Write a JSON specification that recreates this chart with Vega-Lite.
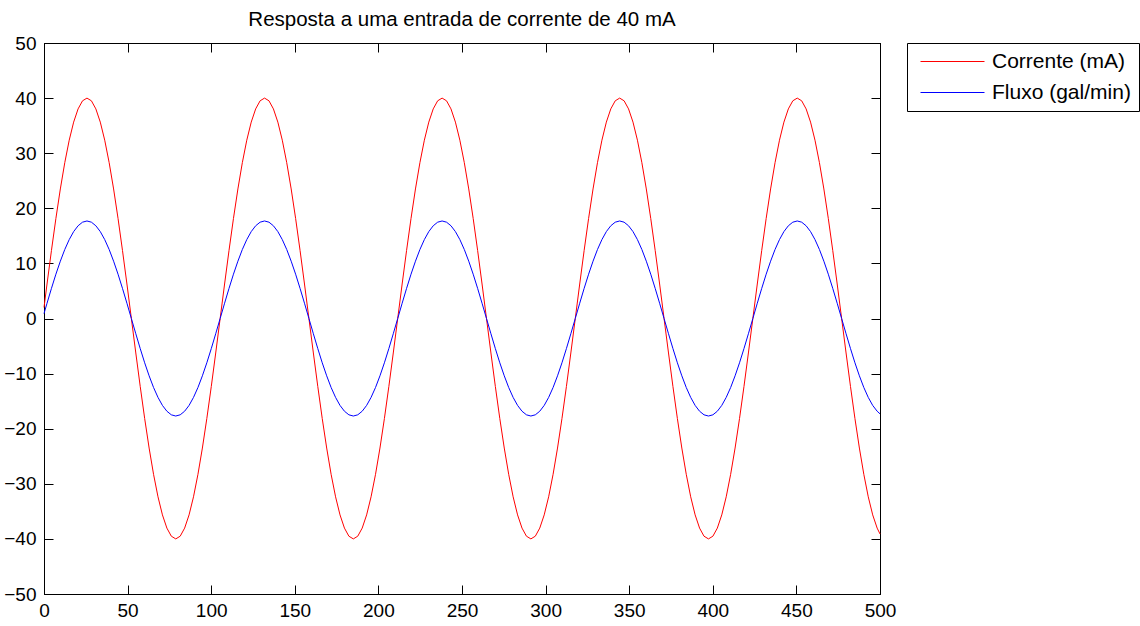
{
  "$schema": "https://vega.github.io/schema/vega-lite/v6.json",
  "width": 836,
  "height": 551,
  "autosize": "none",
  "padding": {"left": 44, "top": 43, "right": 260, "bottom": 32},
  "background": "white",
  "config": {
    "font": "Liberation Sans",
    "view": {"stroke": "black", "strokeWidth": 1}
  },
  "title": {
    "text": "Resposta a uma entrada de corrente de 40 mA",
    "fontSize": 20.5,
    "fontWeight": "normal",
    "font": "Liberation Sans",
    "color": "black",
    "anchor": "middle",
    "offset": 4
  },
  "data": {
    "values": [
      {"t":0,"c":2.01,"f":0.89},
      {"t":1.805,"c":6.26,"f":2.77},
      {"t":4.46,"c":12.36,"f":5.47},
      {"t":7.115,"c":18.16,"f":8.04},
      {"t":9.77,"c":23.51,"f":10.4},
      {"t":12.425,"c":28.28,"f":12.52},
      {"t":15.08,"c":32.36,"f":14.32},
      {"t":17.735,"c":35.64,"f":15.77},
      {"t":20.39,"c":38.04,"f":16.83},
      {"t":23.045,"c":39.51,"f":17.48},
      {"t":25.7,"c":40,"f":17.7},
      {"t":28.355,"c":39.51,"f":17.48},
      {"t":31.01,"c":38.04,"f":16.83},
      {"t":33.665,"c":35.64,"f":15.77},
      {"t":36.32,"c":32.36,"f":14.32},
      {"t":38.975,"c":28.28,"f":12.52},
      {"t":41.63,"c":23.51,"f":10.4},
      {"t":44.285,"c":18.16,"f":8.04},
      {"t":46.94,"c":12.36,"f":5.47},
      {"t":49.595,"c":6.26,"f":2.77},
      {"t":52.25,"c":0,"f":0},
      {"t":54.905,"c":-6.26,"f":-2.77},
      {"t":57.56,"c":-12.36,"f":-5.47},
      {"t":60.215,"c":-18.16,"f":-8.04},
      {"t":62.87,"c":-23.51,"f":-10.4},
      {"t":65.525,"c":-28.28,"f":-12.52},
      {"t":68.18,"c":-32.36,"f":-14.32},
      {"t":70.835,"c":-35.64,"f":-15.77},
      {"t":73.49,"c":-38.04,"f":-16.83},
      {"t":76.145,"c":-39.51,"f":-17.48},
      {"t":78.8,"c":-40,"f":-17.7},
      {"t":81.455,"c":-39.51,"f":-17.48},
      {"t":84.11,"c":-38.04,"f":-16.83},
      {"t":86.765,"c":-35.64,"f":-15.77},
      {"t":89.42,"c":-32.36,"f":-14.32},
      {"t":92.075,"c":-28.28,"f":-12.52},
      {"t":94.73,"c":-23.51,"f":-10.4},
      {"t":97.385,"c":-18.16,"f":-8.04},
      {"t":100.04,"c":-12.36,"f":-5.47},
      {"t":102.695,"c":-6.26,"f":-2.77},
      {"t":105.35,"c":0,"f":0},
      {"t":108.005,"c":6.26,"f":2.77},
      {"t":110.66,"c":12.36,"f":5.47},
      {"t":113.315,"c":18.16,"f":8.04},
      {"t":115.97,"c":23.51,"f":10.4},
      {"t":118.625,"c":28.28,"f":12.52},
      {"t":121.28,"c":32.36,"f":14.32},
      {"t":123.935,"c":35.64,"f":15.77},
      {"t":126.59,"c":38.04,"f":16.83},
      {"t":129.245,"c":39.51,"f":17.48},
      {"t":131.9,"c":40,"f":17.7},
      {"t":134.555,"c":39.51,"f":17.48},
      {"t":137.21,"c":38.04,"f":16.83},
      {"t":139.865,"c":35.64,"f":15.77},
      {"t":142.52,"c":32.36,"f":14.32},
      {"t":145.175,"c":28.28,"f":12.52},
      {"t":147.83,"c":23.51,"f":10.4},
      {"t":150.485,"c":18.16,"f":8.04},
      {"t":153.14,"c":12.36,"f":5.47},
      {"t":155.795,"c":6.26,"f":2.77},
      {"t":158.45,"c":0,"f":0},
      {"t":161.105,"c":-6.26,"f":-2.77},
      {"t":163.76,"c":-12.36,"f":-5.47},
      {"t":166.415,"c":-18.16,"f":-8.04},
      {"t":169.07,"c":-23.51,"f":-10.4},
      {"t":171.725,"c":-28.28,"f":-12.52},
      {"t":174.38,"c":-32.36,"f":-14.32},
      {"t":177.035,"c":-35.64,"f":-15.77},
      {"t":179.69,"c":-38.04,"f":-16.83},
      {"t":182.345,"c":-39.51,"f":-17.48},
      {"t":185,"c":-40,"f":-17.7},
      {"t":187.655,"c":-39.51,"f":-17.48},
      {"t":190.31,"c":-38.04,"f":-16.83},
      {"t":192.965,"c":-35.64,"f":-15.77},
      {"t":195.62,"c":-32.36,"f":-14.32},
      {"t":198.275,"c":-28.28,"f":-12.52},
      {"t":200.93,"c":-23.51,"f":-10.4},
      {"t":203.585,"c":-18.16,"f":-8.04},
      {"t":206.24,"c":-12.36,"f":-5.47},
      {"t":208.895,"c":-6.26,"f":-2.77},
      {"t":211.55,"c":0,"f":0},
      {"t":214.205,"c":6.26,"f":2.77},
      {"t":216.86,"c":12.36,"f":5.47},
      {"t":219.515,"c":18.16,"f":8.04},
      {"t":222.17,"c":23.51,"f":10.4},
      {"t":224.825,"c":28.28,"f":12.52},
      {"t":227.48,"c":32.36,"f":14.32},
      {"t":230.135,"c":35.64,"f":15.77},
      {"t":232.79,"c":38.04,"f":16.83},
      {"t":235.445,"c":39.51,"f":17.48},
      {"t":238.1,"c":40,"f":17.7},
      {"t":240.755,"c":39.51,"f":17.48},
      {"t":243.41,"c":38.04,"f":16.83},
      {"t":246.065,"c":35.64,"f":15.77},
      {"t":248.72,"c":32.36,"f":14.32},
      {"t":251.375,"c":28.28,"f":12.52},
      {"t":254.03,"c":23.51,"f":10.4},
      {"t":256.685,"c":18.16,"f":8.04},
      {"t":259.34,"c":12.36,"f":5.47},
      {"t":261.995,"c":6.26,"f":2.77},
      {"t":264.65,"c":0,"f":0},
      {"t":267.305,"c":-6.26,"f":-2.77},
      {"t":269.96,"c":-12.36,"f":-5.47},
      {"t":272.615,"c":-18.16,"f":-8.04},
      {"t":275.27,"c":-23.51,"f":-10.4},
      {"t":277.925,"c":-28.28,"f":-12.52},
      {"t":280.58,"c":-32.36,"f":-14.32},
      {"t":283.235,"c":-35.64,"f":-15.77},
      {"t":285.89,"c":-38.04,"f":-16.83},
      {"t":288.545,"c":-39.51,"f":-17.48},
      {"t":291.2,"c":-40,"f":-17.7},
      {"t":293.855,"c":-39.51,"f":-17.48},
      {"t":296.51,"c":-38.04,"f":-16.83},
      {"t":299.165,"c":-35.64,"f":-15.77},
      {"t":301.82,"c":-32.36,"f":-14.32},
      {"t":304.475,"c":-28.28,"f":-12.52},
      {"t":307.13,"c":-23.51,"f":-10.4},
      {"t":309.785,"c":-18.16,"f":-8.04},
      {"t":312.44,"c":-12.36,"f":-5.47},
      {"t":315.095,"c":-6.26,"f":-2.77},
      {"t":317.75,"c":0,"f":0},
      {"t":320.405,"c":6.26,"f":2.77},
      {"t":323.06,"c":12.36,"f":5.47},
      {"t":325.715,"c":18.16,"f":8.04},
      {"t":328.37,"c":23.51,"f":10.4},
      {"t":331.025,"c":28.28,"f":12.52},
      {"t":333.68,"c":32.36,"f":14.32},
      {"t":336.335,"c":35.64,"f":15.77},
      {"t":338.99,"c":38.04,"f":16.83},
      {"t":341.645,"c":39.51,"f":17.48},
      {"t":344.3,"c":40,"f":17.7},
      {"t":346.955,"c":39.51,"f":17.48},
      {"t":349.61,"c":38.04,"f":16.83},
      {"t":352.265,"c":35.64,"f":15.77},
      {"t":354.92,"c":32.36,"f":14.32},
      {"t":357.575,"c":28.28,"f":12.52},
      {"t":360.23,"c":23.51,"f":10.4},
      {"t":362.885,"c":18.16,"f":8.04},
      {"t":365.54,"c":12.36,"f":5.47},
      {"t":368.195,"c":6.26,"f":2.77},
      {"t":370.85,"c":0,"f":0},
      {"t":373.505,"c":-6.26,"f":-2.77},
      {"t":376.16,"c":-12.36,"f":-5.47},
      {"t":378.815,"c":-18.16,"f":-8.04},
      {"t":381.47,"c":-23.51,"f":-10.4},
      {"t":384.125,"c":-28.28,"f":-12.52},
      {"t":386.78,"c":-32.36,"f":-14.32},
      {"t":389.435,"c":-35.64,"f":-15.77},
      {"t":392.09,"c":-38.04,"f":-16.83},
      {"t":394.745,"c":-39.51,"f":-17.48},
      {"t":397.4,"c":-40,"f":-17.7},
      {"t":400.055,"c":-39.51,"f":-17.48},
      {"t":402.71,"c":-38.04,"f":-16.83},
      {"t":405.365,"c":-35.64,"f":-15.77},
      {"t":408.02,"c":-32.36,"f":-14.32},
      {"t":410.675,"c":-28.28,"f":-12.52},
      {"t":413.33,"c":-23.51,"f":-10.4},
      {"t":415.985,"c":-18.16,"f":-8.04},
      {"t":418.64,"c":-12.36,"f":-5.47},
      {"t":421.295,"c":-6.26,"f":-2.77},
      {"t":423.95,"c":0,"f":0},
      {"t":426.605,"c":6.26,"f":2.77},
      {"t":429.26,"c":12.36,"f":5.47},
      {"t":431.915,"c":18.16,"f":8.04},
      {"t":434.57,"c":23.51,"f":10.4},
      {"t":437.225,"c":28.28,"f":12.52},
      {"t":439.88,"c":32.36,"f":14.32},
      {"t":442.535,"c":35.64,"f":15.77},
      {"t":445.19,"c":38.04,"f":16.83},
      {"t":447.845,"c":39.51,"f":17.48},
      {"t":450.5,"c":40,"f":17.7},
      {"t":453.155,"c":39.51,"f":17.48},
      {"t":455.81,"c":38.04,"f":16.83},
      {"t":458.465,"c":35.64,"f":15.77},
      {"t":461.12,"c":32.36,"f":14.32},
      {"t":463.775,"c":28.28,"f":12.52},
      {"t":466.43,"c":23.51,"f":10.4},
      {"t":469.085,"c":18.16,"f":8.04},
      {"t":471.74,"c":12.36,"f":5.47},
      {"t":474.395,"c":6.26,"f":2.77},
      {"t":477.05,"c":0,"f":0},
      {"t":479.705,"c":-6.26,"f":-2.77},
      {"t":482.36,"c":-12.36,"f":-5.47},
      {"t":485.015,"c":-18.16,"f":-8.04},
      {"t":487.67,"c":-23.51,"f":-10.4},
      {"t":490.325,"c":-28.28,"f":-12.52},
      {"t":492.98,"c":-32.36,"f":-14.32},
      {"t":495.635,"c":-35.64,"f":-15.77},
      {"t":498.29,"c":-38.04,"f":-16.83},
      {"t":500,"c":-39.1,"f":-17.3}
    ]
  },
  "transform": [{"fold": ["c", "f"], "as": ["s", "v"]}],
  "layer": [
    {
      "mark": {"type": "line", "strokeWidth": 1},
      "encoding": {
        "x": {
          "field": "t", "type": "quantitative",
          "scale": {"domain": [0, 500], "nice": false, "zero": false},
          "axis": {
            "orient": "bottom", "title": null, "grid": false,
            "values": [0, 50, 100, 150, 200, 250, 300, 350, 400, 450, 500],
            "tickSize": -9, "tickColor": "black", "tickWidth": 1,
            "domainColor": "black", "domainWidth": 1,
            "labelFont": "Liberation Sans", "labelFontSize": 19, "labelColor": "black",
            "labelPadding": 16, "labelFlush": false, "labelOverlap": false
          }
        },
        "y": {
          "field": "v", "type": "quantitative",
          "scale": {"domain": [-50, 50], "nice": false, "zero": false},
          "axis": {
            "orient": "left", "title": null, "grid": false,
            "values": [-50, -40, -30, -20, -10, 0, 10, 20, 30, 40, 50],
            "tickSize": -9, "tickColor": "black", "tickWidth": 1,
            "domainColor": "black", "domainWidth": 1,
            "labelFont": "Liberation Sans", "labelFontSize": 19, "labelColor": "black",
            "labelPadding": 17, "labelFlush": false, "labelOverlap": false
          }
        },
        "color": {
          "field": "s", "type": "nominal",
          "scale": {"domain": ["c", "f"], "range": ["#ff0000", "#0000ff"]},
          "legend": {
            "orient": "none", "legendX": 863, "legendY": 0,
            "title": null,
            "labelExpr": "datum.label == 'c' ? 'Corrente (mA)' : 'Fluxo (gal/min)'",
            "labelFont": "Liberation Sans", "labelFontSize": 21, "labelColor": "black",
            "strokeColor": "black", "fillColor": "white", "padding": 8,
            "symbolType": "M-0.5,0H5.9", "symbolSize": 400, "symbolStrokeWidth": 1,
            "labelOffset": 56, "rowPadding": 9,
            "encode": {
              "symbols": {
                "update": {
                  "stroke": {"scale": "color", "field": "value"},
                  "fill": {"value": "transparent"},
                  "strokeWidth": {"value": 1}
                }
              }
            }
          }
        }
      }
    },
    {
      "mark": {"type": "line", "opacity": 0},
      "encoding": {
        "x": {
          "field": "t", "type": "quantitative",
          "axis": {
            "orient": "top", "title": null, "grid": false, "labels": false,
            "values": [0, 50, 100, 150, 200, 250, 300, 350, 400, 450, 500],
            "tickSize": -9, "tickColor": "black", "domainColor": "black"
          }
        },
        "y": {
          "field": "v", "type": "quantitative",
          "axis": {
            "orient": "right", "title": null, "grid": false, "labels": false,
            "values": [-50, -40, -30, -20, -10, 0, 10, 20, 30, 40, 50],
            "tickSize": -9, "tickColor": "black", "domainColor": "black"
          }
        },
        "detail": {"field": "s"}
      }
    }
  ],
  "resolve": {"axis": {"x": "independent", "y": "independent"}}
}
